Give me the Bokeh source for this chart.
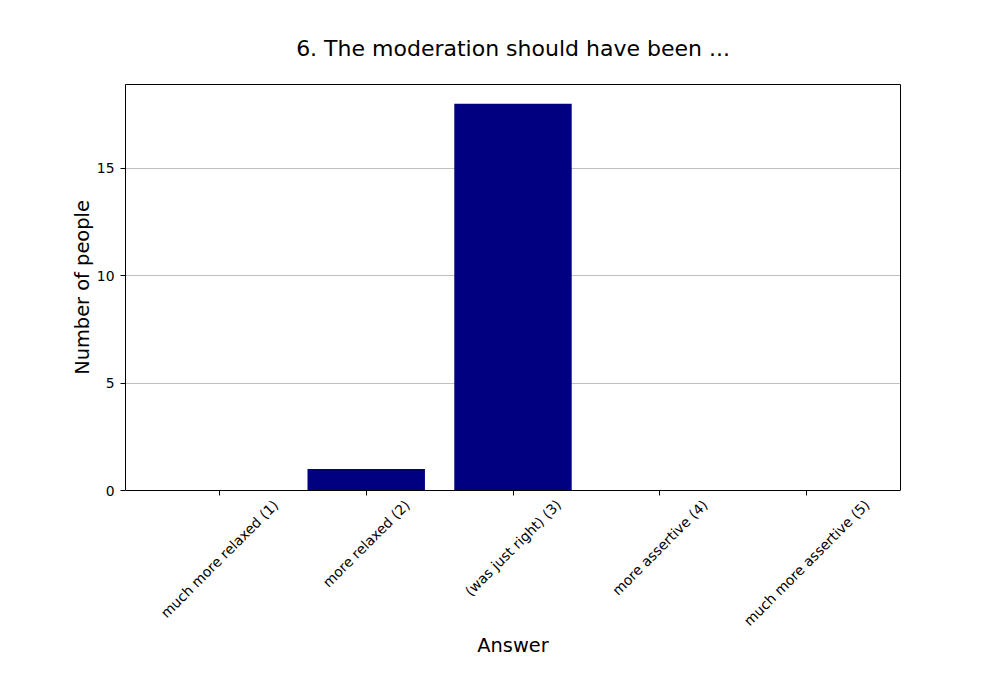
from bokeh.plotting import figure
from bokeh.models import FixedTicker, Range1d, LinearAxis, ColumnDataSource, Label
from bokeh.core.properties import value
from bokeh.embed import file_html
from bokeh.resources import INLINE
import math

categories = ["much more relaxed (1)", "more relaxed (2)", "(was just right) (3)",
              "more assertive (4)", "much more assertive (5)"]
counts = [0, 1, 18, 0, 0]
y_ticks = [0, 5, 10, 15]

# DejaVu Sans advance widths (font units per 2048 em) used to centre rotated labels
ADV = {"a": 1255, "c": 1126, "d": 1300, "e": 1260, "g": 1300, "h": 1298, "i": 569,
       "j": 569, "l": 569, "m": 1995, "o": 1253, "r": 842, "s": 1067, "t": 803,
       "u": 1298, "v": 1212, "w": 1675, "x": 1212, " ": 651, "(": 799, ")": 799}
for dch in "0123456789":
    ADV[dch] = 1303

FONT = "DejaVu Sans"
TICK_PX = 13.9

def text_width(s, size):
    return sum(ADV.get(ch, 1250) for ch in s) / 2048.0 * size

# layout (pixels on the canvas)
W, H = 984, 684
TOP, LEFT, RIGHT, BOTTOM = 84, 125, 84, 26
Y0_PX = 490                      # where the value axis starts (y = 0)
FRAME_BOTTOM = H - BOTTOM

xs = list(range(len(categories)))
n = len(categories)
pad = 0.05 * (n - 1 + 0.8)
ymax = max(counts) * 1.05
# the frame is extended below y=0 so the rotated category labels can be drawn in it
ylow = -ymax * (FRAME_BOTTOM - Y0_PX) / (Y0_PX - TOP)

x_range = Range1d(-0.4 - pad, n - 1 + 0.4 + pad)
p = figure(width=W, height=H, output_backend="svg", toolbar_location=None,
           x_range=x_range, y_range=Range1d(ylow, ymax),
           title="6. The moderation should have been ...")
p.min_border_left = LEFT
p.min_border_right = RIGHT
p.min_border_top = TOP
p.min_border_bottom = BOTTOM

p.vbar(x=xs, top=counts, width=0.8, fill_color="#000080", line_color=None)

p.title.align = "center"
p.title.text_font = FONT
p.title.text_font_size = "22px"
p.title.text_font_style = "normal"
p.title.text_color = "black"
p.title.standoff = 47

p.outline_line_color = None
p.background_fill_color = "white"
p.border_fill_color = "white"

p.xgrid.visible = False
p.ygrid.grid_line_color = "#b0b0b0"
p.ygrid.grid_line_width = 0.8

# bottom spine / ticks at y = 0
xa = p.xaxis[0]
xa.ticker = FixedTicker(ticks=xs)
xa.major_label_overrides = {i: "" for i in xs}
xa.major_label_text_font_size = "0px"
xa.major_label_standoff = 0
xa.fixed_location = 0
xa.axis_line_color = "black"
xa.major_tick_line_color = "black"
xa.major_tick_out = 5
xa.major_tick_in = 0
xa.minor_tick_line_color = None

# left spine with ticks, limited to the value range
ya = p.yaxis[0]
ya.ticker = FixedTicker(ticks=y_ticks)
ya.bounds = (0, ymax)
ya.axis_line_color = "black"
ya.major_tick_line_color = "black"
ya.major_tick_out = 5
ya.major_tick_in = 0
ya.minor_tick_line_color = None
ya.major_label_text_font = FONT
ya.major_label_text_font_size = f"{TICK_PX}px"
ya.major_label_text_color = "black"
ya.major_label_standoff = 6

# y-axis title, centred on the value range (drawn in the left panel)
p.add_layout(Label(x=x_range.start, y=ymax / 2, x_offset=-43, text="Number of people",
                   angle=math.pi / 2, text_align="center", text_baseline="middle",
                   text_font=FONT, text_font_size="19.4px", text_color="black"), "left")

# top and right spines
def spine(bounds=None):
    ax = LinearAxis(ticker=FixedTicker(ticks=[]), major_tick_out=0, major_tick_in=0,
                    minor_tick_line_color=None, major_label_text_font_size="0px",
                    major_label_standoff=0, axis_line_color="black")
    if bounds is not None:
        ax.bounds = bounds
    return ax

p.add_layout(spine(), "above")
p.add_layout(spine((0, ymax)), "right")

# rotated category labels, centred under each tick like the original
h = 1.164 * TICK_PX
offs = [6 + (text_width(c, TICK_PX) + h) / (2 * math.sqrt(2)) for c in categories]
src = ColumnDataSource(dict(x=xs, y=[0] * n, text=categories, off=offs))
p.text(x="x", y="y", text="text", y_offset="off", source=src,
       angle=math.pi / 4, text_align="center", text_baseline="middle",
       text_font=value(FONT), text_font_size=value(f"{TICK_PX}px"), text_color="black")

# x-axis title
p.text(x=[(x_range.start + x_range.end) / 2], y=[0], text=["Answer"], y_offset=155,
       text_align="center", text_baseline="middle",
       text_font=value(FONT), text_font_size=value("19.4px"), text_color="black")

open("out.html", "w").write(file_html(p, INLINE))
